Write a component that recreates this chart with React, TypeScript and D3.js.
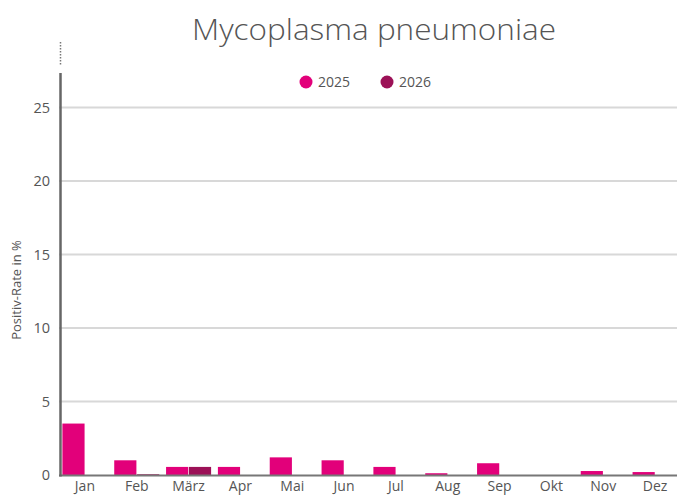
import React from 'react';
import * as d3 from 'd3';

const months = ['Jan', 'Feb', 'März', 'Apr', 'Mai', 'Jun', 'Jul', 'Aug', 'Sep', 'Okt', 'Nov', 'Dez'];
const series = ['2025', '2026'];
const values2025 = [3.5, 1.0, 0.55, 0.55, 1.2, 1.0, 0.55, 0.12, 0.8, 0, 0.27, 0.2];
const values2026 = [0, 0.05, 0.55, 0, 0, 0, 0, 0, 0, 0, 0, 0];
const yTicks = [0, 5, 10, 15, 20, 25];
const colors = ['#e2007a', '#9c1157'];

const width = 677;
const height = 495;
const margin = { left: 59, right: -4, top: 73, bottom: 20 };

export default function App() {
    const x = d3.scaleBand<string>()
        .domain(months)
        .range([margin.left, width - margin.right]);
    const xInner = d3.scaleBand<string>()
        .domain(series)
        .range([3.4, x.bandwidth() - 3.4])
        .paddingInner(0.03);
    const y = d3.scaleLinear()
        .domain([0, 27.35])
        .range([height - margin.bottom, margin.top]);

    const data = [values2025, values2026];
    const font = '"Open Sans", Lato, sans-serif';

    return (
        <svg width={width} height={height} style={{ position: 'absolute', left: 0, top: 0 }} fontFamily={font}>
            <text x={374} y={40} textAnchor="middle" fontSize={29} fontWeight={300} fill="#555"
                textLength={364} lengthAdjust="spacingAndGlyphs">Mycoplasma pneumoniae</text>

            {/* legend */}
            <g>
                {series.map((s, i) => (
                    <g key={s} transform={`translate(${306 + i * 81},82)`}>
                        <circle r={6.5} fill={colors[i]} />
                        <text x={12} y={5} fontSize={14} fill="#555">{s}</text>
                    </g>
                ))}
            </g>

            {/* grid */}
            {yTicks.filter(t => t > 0).map(t => (
                <line key={t} x1={margin.left} x2={width} y1={y(t)} y2={y(t)} stroke="#d8d8d8" strokeWidth={2} />
            ))}
            {yTicks.map(t => (
                <text key={t} x={50} y={y(t) + 5} textAnchor="end" fontSize={14.5} fill="#555">{t}</text>
            ))}

            {/* bars */}
            {months.map((m, mi) => (
                <g key={m} transform={`translate(${x(m)},0)`}>
                    {series.map((s, si) => {
                        const v = data[si][mi];
                        if (v <= 0) return null;
                        return (
                            <rect key={s} x={xInner(s)} width={xInner.bandwidth()} y={y(v)}
                                height={y(0) - y(v)} fill={colors[si]} />
                        );
                    })}
                </g>
            ))}

            {/* axes */}
            <line x1={margin.left} x2={width} y1={y(0) + 0.5} y2={y(0) + 0.5} stroke="#777" strokeWidth={2} />
            <line x1={60.5} x2={60.5} y1={margin.top} y2={y(0) + 1.5} stroke="#666" strokeWidth={2.5} />
            <line x1={60.5} x2={60.5} y1={42} y2={65} stroke="#777" strokeWidth={1.5} strokeDasharray="1.5,1.5" />

            {months.map(m => (
                <text key={m} x={(x(m) ?? 0) + x.bandwidth() / 2} y={491} textAnchor="middle" fontSize={14} fill="#555">{m}</text>
            ))}

            <text transform={`translate(21,${290}) rotate(-90)`} textAnchor="middle" fontSize={13} fill="#555">Positiv-Rate in %</text>
        </svg>
    );
}
